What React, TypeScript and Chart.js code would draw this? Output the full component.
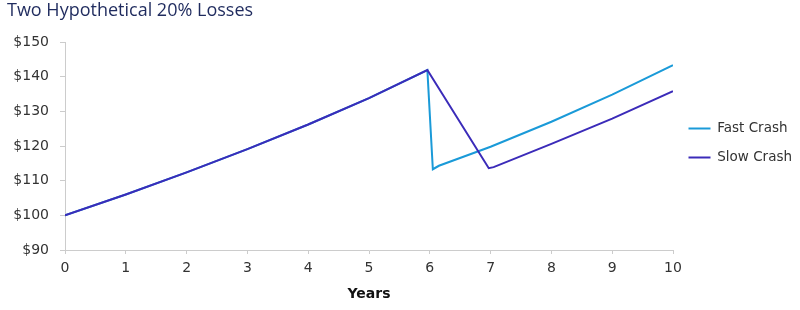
import React, { useEffect, useRef } from "react";
import { Chart, registerables } from "chart.js";

Chart.register(...registerables);

const TITLE = "Two Hypothetical 20% Losses";
const X_TITLE = "Years";
const SERIES_NAMES = ["Fast Crash", "Slow Crash"];
const X_TICKS = [0, 1, 2, 3, 4, 5, 6, 7, 8, 9, 10];
const Y_TICKS = [90, 100, 110, 120, 130, 140, 150];

// shared growth path before the crash
const preYears = [0, 1, 2, 3, 4, 5, 5.96];
const preValues = [100, 106, 112.4, 119.1, 126.2, 133.8, 141.9];

// fast crash after the peak
const fastYears = [6.05, 6.15, 7, 8, 9, 10];
const fastValues = [113.3, 114.3, 119.8, 127.0, 134.8, 143.3];

// slow crash after the peak
const slowYears = [6.97, 7.05, 8, 9, 10];
const slowValues = [113.6, 113.9, 120.6, 127.9, 135.8];

const FAST_COLOR = "#1a9ad8";
const SLOW_COLOR = "#3b2bb9";

const zip = (xs: number[], ys: number[]) => xs.map((x, i) => ({ x, y: ys[i] }));

export default function App() {
  const ref = useRef<HTMLCanvasElement | null>(null);

  useEffect(() => {
    if (!ref.current) return;
    const chart = new Chart(ref.current, {
      type: "line",
      data: {
        datasets: [
          {
            label: SERIES_NAMES[0],
            data: [...zip(preYears, preValues), ...zip(fastYears, fastValues)],
            borderColor: FAST_COLOR,
            backgroundColor: FAST_COLOR,
            borderWidth: 2,
            pointRadius: 0,
            tension: 0,
            order: 1,
          },
          {
            label: SERIES_NAMES[1],
            data: [...zip(preYears, preValues), ...zip(slowYears, slowValues)],
            borderColor: SLOW_COLOR,
            backgroundColor: SLOW_COLOR,
            borderWidth: 2,
            pointRadius: 0,
            tension: 0,
            order: 0,
          },
        ],
      },
      options: {
        animation: false,
        responsive: true,
        maintainAspectRatio: false,
        layout: { padding: { left: 7, right: 0, top: 0, bottom: 0 } },
        plugins: {
          tooltip: { enabled: false },
          title: {
            display: true,
            text: TITLE,
            align: "start",
            color: "#1f2b5e",
            font: { family: "'Open Sans'", size: 18, weight: "normal" },
            padding: { top: 0.5, bottom: 19.9 },
          },
          legend: {
            position: "right",
            fullSize: false,
            maxWidth: 127,
            title: {
              display: true,
              text: "",
              font: { size: 1 },
              padding: { top: -7.2, bottom: 0 },
            },
            labels: {
              boxWidth: 22,
              boxHeight: 2,
              padding: 15.5,
              color: "#333333",
              font: { family: "'DejaVu Sans'", size: 13.5 },
              sort: (a: any, b: any) => a.datasetIndex - b.datasetIndex,
              generateLabels: (c: any) =>
                Chart.defaults.plugins.legend.labels
                  .generateLabels(c)
                  .map((l: any) => ({ ...l, lineWidth: 0 })),
            },
          },
        },
        scales: {
          x: {
            type: "linear",
            min: 0,
            max: 10,
            afterBuildTicks: (s: any) => {
              s.ticks = X_TICKS.map((v) => ({ value: v }));
            },
            afterFit: (s: any) => {
              s.height = 60;
            },
            grid: {
              drawOnChartArea: false,
              drawTicks: true,
              tickLength: 4,
              color: "#cccccc",
            },
            border: { display: true, color: "#cccccc" },
            ticks: {
              padding: 6,
              color: "#333333",
              font: { family: "'DejaVu Sans'", size: 14 },
            },
            title: {
              display: true,
              text: X_TITLE,
              color: "#111111",
              font: { family: "'DejaVu Sans'", size: 14, weight: "bold" },
              padding: { top: 0, bottom: 7.6 },
            },
          },
          y: {
            type: "linear",
            min: 90,
            max: 150,
            afterBuildTicks: (s: any) => {
              s.ticks = Y_TICKS.map((v) => ({ value: v }));
            },
            afterFit: (s: any) => {
              s.width = 58;
            },
            grid: {
              drawOnChartArea: false,
              drawTicks: true,
              tickLength: 5,
              color: "#cccccc",
            },
            border: { display: true, color: "#cccccc" },
            ticks: {
              padding: 11,
              color: "#333333",
              font: { family: "'DejaVu Sans'", size: 14 },
              callback: (v: any) => "$" + v,
            },
          },
        },
      },
    });
    return () => chart.destroy();
  }, []);

  return (
    <div style={{ position: "absolute", left: 0, top: 0, width: 800, height: 310 }}>
      <canvas ref={ref} />
    </div>
  );
}
